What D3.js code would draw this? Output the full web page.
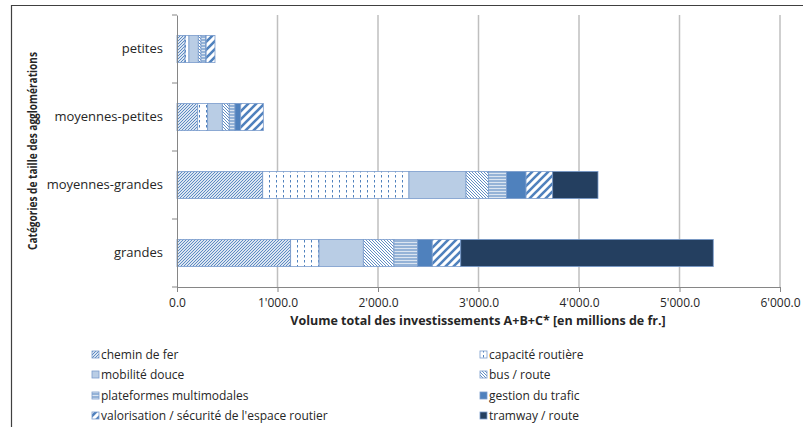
<!DOCTYPE html>
<html><head><meta charset="utf-8">
<script src="https://cdn.jsdelivr.net/npm/d3@7"></script>
<style>body{margin:0;background:#fff}svg{display:block}text{font-family:"Open Sans","Liberation Sans",sans-serif;fill:#262626}</style>
</head><body><svg id="c" width="803" height="427"></svg>
<script>
const categories = ["petites","moyennes-petites","moyennes-grandes","grandes"];
const seriesNames = ["chemin de fer","capacité routière","mobilité douce","bus / route","plateformes multimodales","gestion du trafic","valorisation / sécurité de l'espace routier","tramway / route"];
const cheminDeFer   = [80, 206, 853, 1131];
const capaciteRout  = [39, 99, 1455, 282];
const mobiliteDouce = [93, 146, 568, 441];
const busRoute      = [27, 69, 222, 305];
const plateformes   = [47, 57, 182, 236];
const gestionTrafic = [4, 57, 193, 145];
const valorisation  = [88, 225, 265, 283];
const tramwayRoute  = [0, 0, 451, 2513];
const xTicks = [0,1000,2000,3000,4000,5000,6000];

const seriesVals = [cheminDeFer,capaciteRout,mobiliteDouce,busRoute,plateformes,gestionTrafic,valorisation,tramwayRoute];
const fills = ["url(#pChemin)","url(#pCap)","#b9cde5","url(#pBus)","url(#pPlat)","#4f81bd","url(#pVal)","#243f60"];

const svg = d3.select("#c");
const defs = svg.append("defs");
const blue = "#4f81bd";
function pat(id,w,h,bg,draw){
  const p = defs.append("pattern").attr("id",id).attr("patternUnits","userSpaceOnUse").attr("width",w).attr("height",h);
  p.append("rect").attr("width",w).attr("height",h).attr("fill",bg);
  draw(p);
}
pat("pChemin",3,3,"#dbe5f1",p=>{
  p.append("path").attr("d","M-1,1 l2,-2 M0,3 l3,-3 M2,4 l2,-2").attr("stroke",blue).attr("stroke-width",0.9);
});
pat("pCap",7,5,"#ffffff",p=>{
  p.append("line").attr("x1",3.5).attr("x2",3.5).attr("y1",0).attr("y2",2.5).attr("stroke",blue).attr("stroke-width",1);
});
pat("pBus",3,3,"#ffffff",p=>{
  p.append("path").attr("d","M-1,-1 l5,5 M-1,2 l2,2 M2,-1 l2,2").attr("stroke",blue).attr("stroke-width",0.9);
});
pat("pPlat",4,3,"#dbe5f1",p=>{
  p.append("line").attr("x1",0).attr("x2",4).attr("y1",1).attr("y2",1).attr("stroke",blue).attr("stroke-width",1);
});
pat("pVal",8,8,"#ffffff",p=>{
  p.append("path").attr("d","M-2,2 l4,-4 M0,8 l8,-8 M6,10 l4,-4").attr("stroke",blue).attr("stroke-width",2.6);
});

// border
svg.append("path").attr("d","M11.5,427 V5.5 H803").attr("fill","none").attr("stroke","#404040").attr("stroke-width",1.2);

const x = d3.scaleLinear().domain([0,6000]).range([177,780]);
const y = d3.scaleBand().domain(categories).range([15,287]).paddingInner(0.6).paddingOuter(0.3);

// gridlines
svg.append("g").selectAll("line").data(xTicks.slice(1)).join("line")
  .attr("x1",d=>x(d)).attr("x2",d=>x(d)).attr("y1",15).attr("y2",287)
  .attr("stroke","#bfbfbf").attr("stroke-width",1.5);

// stacks
const rows = categories.map((c,i)=>{const o={cat:c}; seriesNames.forEach((s,j)=>o[s]=seriesVals[j][i]); return o;});
const stacked = d3.stack().keys(seriesNames)(rows);
svg.append("g").selectAll("g").data(stacked).join("g")
  .attr("fill",(d,i)=>fills[i])
  .selectAll("rect").data(d=>d.filter(e=>e[1]-e[0]>0)).join("rect")
  .attr("x",d=>x(d[0])).attr("width",d=>x(d[1])-x(d[0]))
  .attr("y",d=>y(d.data.cat)).attr("height",y.bandwidth())
  .attr("stroke","#7a9ccc").attr("stroke-width",0.8);

// axes
const ax = svg.append("g").attr("transform","translate(0,287)")
  .call(d3.axisBottom(x).tickValues(xTicks).tickSize(5).tickPadding(6).tickFormat(d=>d3.format(",.1f")(d).replace(/,/g,"'")));
ax.select(".domain").attr("stroke","#868686");
ax.selectAll(".tick line").attr("stroke","#868686");
ax.selectAll("text").attr("font-size",12).attr("fill","#262626");

const ay = svg.append("g").attr("transform","translate(177,0)")
  .call(d3.axisLeft(y).tickSize(0).tickPadding(14));
ay.select(".domain").attr("stroke","#868686");
ay.selectAll("text").attr("font-size",13).attr("fill","#262626");
// category boundary ticks
svg.append("g").selectAll("line").data(d3.range(5)).join("line")
  .attr("x1",172).attr("x2",177)
  .attr("y1",i=>15+i*68).attr("y2",i=>15+i*68).attr("stroke","#868686");

svg.append("text").attr("x",478).attr("y",325).attr("text-anchor","middle")
  .attr("font-size",12.5).attr("font-weight","bold").text("Volume total des investissements A+B+C* [en millions de fr.]");
svg.append("text").attr("transform","translate(37,151) rotate(-90)").attr("text-anchor","middle")
  .attr("font-size",12).attr("font-weight","bold").attr("textLength",198).attr("lengthAdjust","spacingAndGlyphs")
  .text("Catégories de taille des agglomérations");

// legend
const legendPos = [[92,355],[480,355],[92,375],[480,375],[92,396],[480,396],[92,416],[480,416]];
const lg = svg.append("g").selectAll("g").data(seriesNames).join("g")
  .attr("transform",(d,i)=>`translate(${legendPos[i][0]},${legendPos[i][1]})`);
lg.append("rect").attr("x",0).attr("y",-4).attr("width",7).attr("height",7)
  .attr("fill",(d,i)=>fills[i]).attr("stroke","#7a9ccc").attr("stroke-width",0.8);
lg.append("text").attr("x",9).attr("y",4).attr("font-size",12).text(d=>d);
</script></body></html>
